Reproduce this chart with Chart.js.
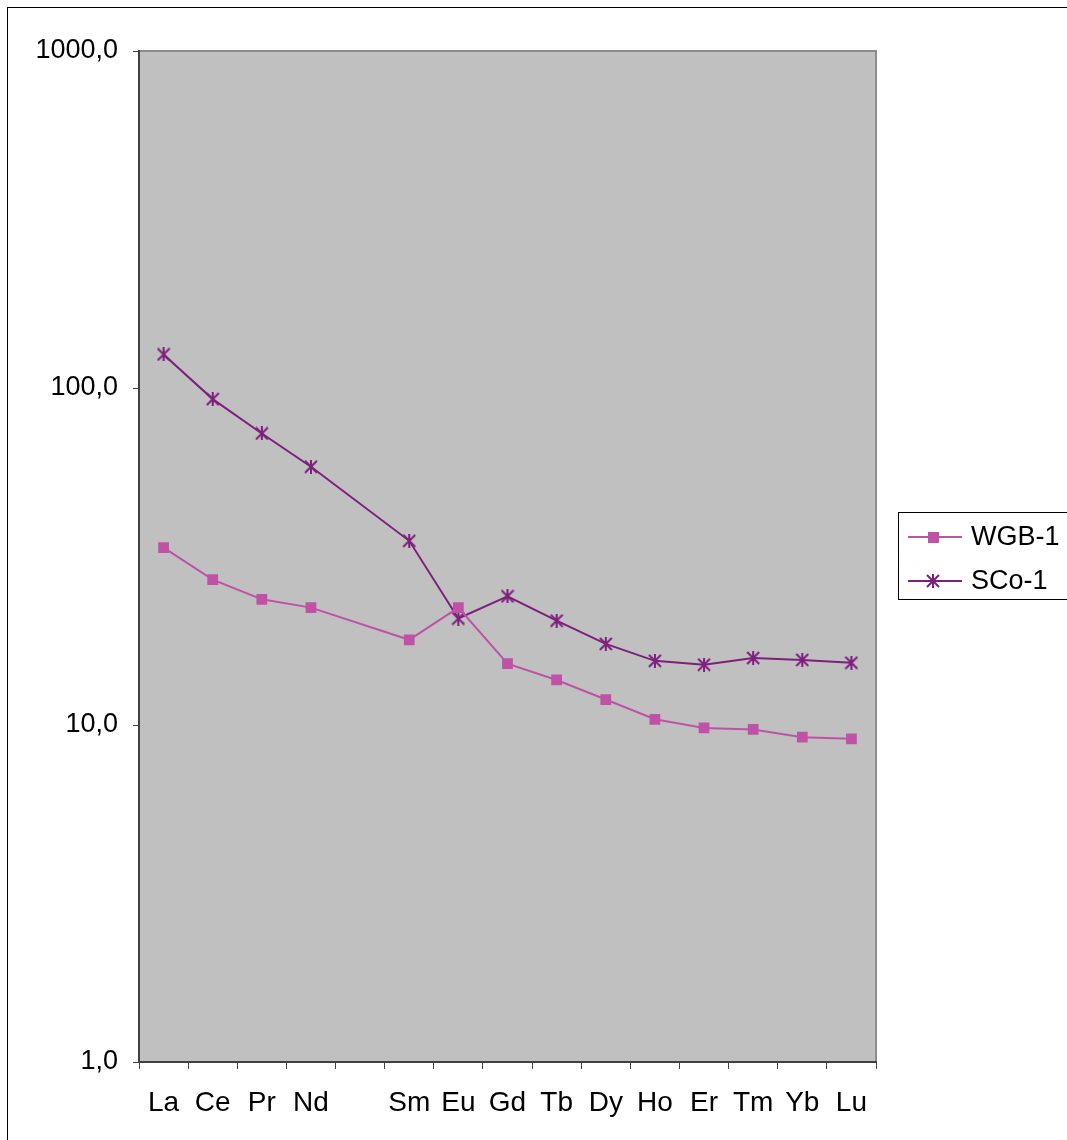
<!DOCTYPE html>
<html>
<head>
<meta charset="utf-8">
<script src="https://cdn.jsdelivr.net/npm/chart.js@4/dist/chart.umd.min.js"></script>
<style>
html, body { margin: 0; padding: 0; background: #fff; }
</style>
</head>
<body>
<canvas id="myChart" width="1067" height="1140"></canvas>
<script>
// elementos terras raras (Pm sem dado)
const elementos = ["La", "Ce", "Pr", "Nd", "", "Sm", "Eu", "Gd", "Tb", "Dy", "Ho", "Er", "Tm", "Yb", "Lu"];
const wgb1 = [33.6, 27.0, 23.6, 22.3, null, 17.9, 22.3, 15.2, 13.6, 11.9, 10.4, 9.8, 9.7, 9.2, 9.1];
const sco1 = [125.8, 92.7, 73.3, 58.4, null, 35.2, 20.7, 24.1, 20.4, 17.4, 15.5, 15.1, 15.8, 15.6, 15.3];
const ticksY = [1, 10, 100, 1000];

const FONTE = "'Liberation Sans', Arial, sans-serif";
const corWGB = "#BF52A6";
const corSCo = "#7E1F7E";

// marcador asterisco estilo Excel
function estrela(cor) {
	const c = document.createElement("canvas");
	c.width = 14;
	c.height = 14;
	const g = c.getContext("2d");
	g.strokeStyle = cor;
	g.lineWidth = 2;
	g.beginPath();
	g.moveTo(1, 1); g.lineTo(13, 13);
	g.moveTo(13, 1); g.lineTo(1, 13);
	g.moveTo(7, 0); g.lineTo(7, 14);
	g.stroke();
	return c;
}
const marcaSCo = estrela(corSCo);

const fundo = {
	id: "fundo",
	beforeDraw(chart) {
		const { ctx, chartArea: a } = chart;
		ctx.save();
		ctx.fillStyle = "#fff";
		ctx.fillRect(0, 0, chart.width, chart.height);
		ctx.strokeStyle = "#000";
		ctx.lineWidth = 1;
		ctx.strokeRect(7.5, 7.5, chart.width + 20, chart.height + 20);
		ctx.fillStyle = "#C0C0C0";
		ctx.fillRect(a.left, a.top, a.right - a.left, a.bottom - a.top);
		ctx.strokeStyle = "#8C8C8C";
		ctx.lineWidth = 2;
		ctx.strokeRect(a.left, a.top, a.right - a.left, a.bottom - a.top);
		ctx.restore();
	},
	afterDraw(chart) {
		const ctx = chart.ctx;
		ctx.save();
		ctx.fillStyle = "#fff";
		ctx.fillRect(898, 512, 200, 87);
		ctx.strokeStyle = "#000";
		ctx.lineWidth = 1;
		ctx.strokeRect(898.5, 512.5, 200, 87);
		const linhas = [
			{ nome: "WGB-1", cor: corWGB, y: 537, tipo: "rect" },
			{ nome: "SCo-1", cor: corSCo, y: 581, tipo: "star" },
		];
		for (const l of linhas) {
			ctx.strokeStyle = l.cor;
			ctx.lineWidth = 2;
			ctx.beginPath();
			ctx.moveTo(908, l.y);
			ctx.lineTo(962, l.y);
			ctx.stroke();
			if (l.tipo === "rect") {
				ctx.fillStyle = l.cor;
				ctx.fillRect(928, l.y - 5, 11, 11);
			} else {
				ctx.drawImage(marcaSCo, 933 - 7, l.y - 7);
			}
			ctx.fillStyle = "#000";
			ctx.font = `27px ${FONTE}`;
			ctx.textBaseline = "middle";
			ctx.textAlign = "left";
			ctx.fillText(l.nome, 971, l.y + 1);
		}
		ctx.restore();
	},
};

new Chart(document.getElementById("myChart"), {
	type: "line",
	data: {
		labels: elementos,
		datasets: [
			{
				label: "WGB-1",
				data: wgb1,
				borderColor: corWGB,
				backgroundColor: corWGB,
				borderWidth: 2,
				pointStyle: "rect",
				pointRadius: 7.6,
				pointBorderWidth: 0,
				spanGaps: true,
				tension: 0,
			},
			{
				label: "SCo-1",
				data: sco1,
				borderColor: corSCo,
				backgroundColor: corSCo,
				borderWidth: 2,
				pointStyle: marcaSCo,
				pointRadius: 6,
				spanGaps: true,
				tension: 0,
			},
		],
	},
	options: {
		responsive: false,
		animation: false,
		events: [],
		layout: { padding: { top: 51, right: 191, left: 0, bottom: 0 } },
		plugins: {
			legend: { display: false },
			tooltip: { enabled: false },
		},
		scales: {
			x: {
				type: "category",
				offset: true,
				grid: { offset: true, drawOnChartArea: false, tickLength: 7, color: "#404040", lineWidth: 1 },
				border: { color: "#404040", width: 2 },
				ticks: {
					color: "#000",
					font: { family: FONTE, size: 28 },
					padding: 17,
					maxRotation: 0,
					autoSkip: false,
				},
				afterFit(s) { s.height = 1140 - 1062; },
			},
			y: {
				type: "logarithmic",
				min: 1,
				max: 1000,
				afterBuildTicks(s) { s.ticks = ticksY.map((v) => ({ value: v })); },
				grid: { drawOnChartArea: false, tickLength: 6, color: "#404040", lineWidth: 1 },
				border: { color: "#404040", width: 2 },
				ticks: {
					color: "#000",
					font: { family: FONTE, size: 27 },
					padding: 15,
					callback: (v) => Number(v).toFixed(1).replace(".", ","),
				},
				afterFit(s) { s.width = 139; },
			},
		},
	},
	plugins: [fundo],
});
</script>
</body>
</html>
